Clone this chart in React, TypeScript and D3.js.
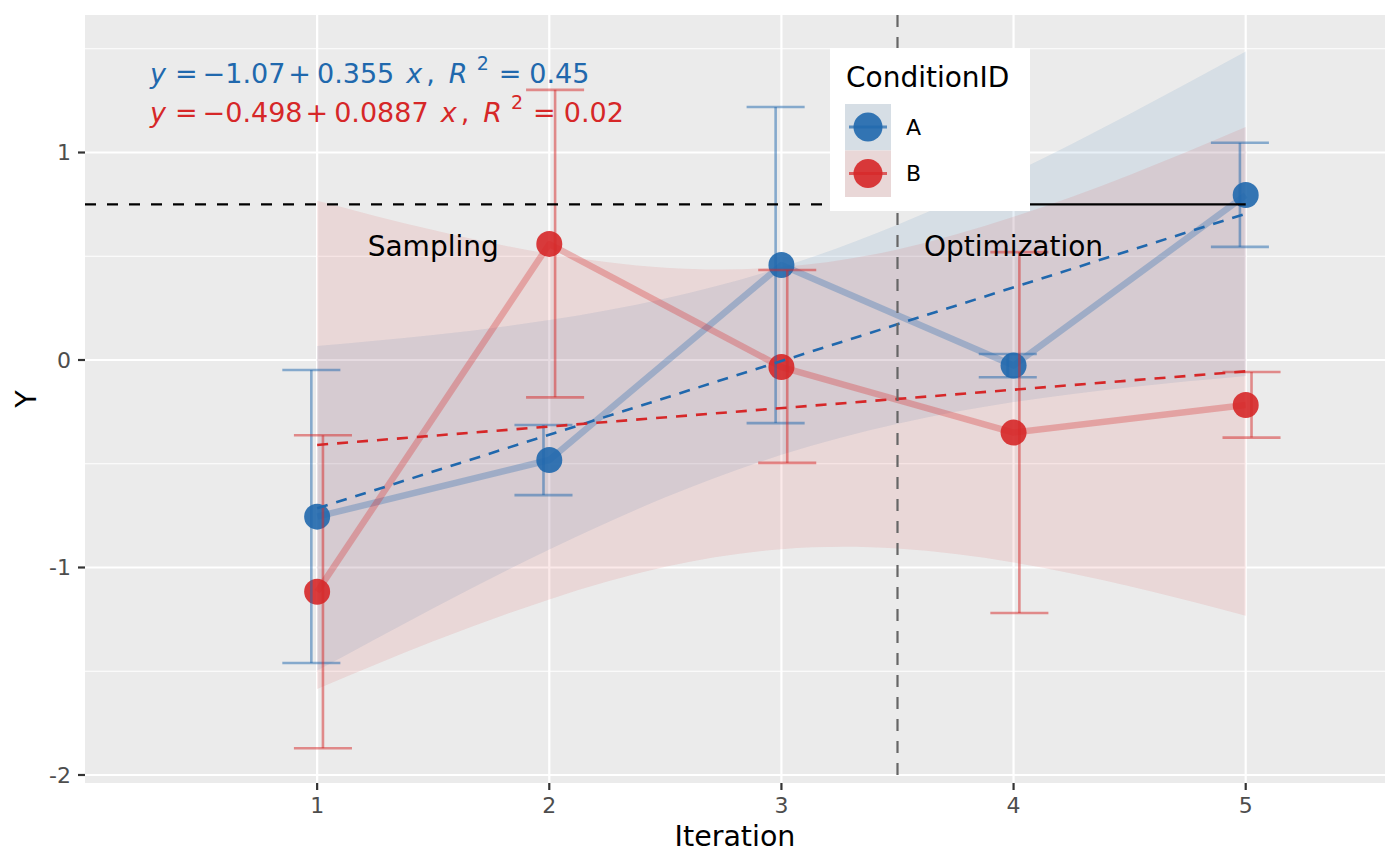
import React from 'react';
import * as d3 from 'd3';

// group means with error bar limits
const iterations = [1, 2, 3, 4, 5];
const groups = ['A', 'B'];
const meanA = [-0.755, -0.482, 0.458, -0.027, 0.795];
const lowA = [-1.46, -0.651, -0.304, -0.083, 0.545];
const highA = [-0.048, -0.313, 1.219, 0.029, 1.047];
const meanB = [-1.117, 0.559, -0.034, -0.35, -0.217];
const lowB = [-1.871, -0.18, -0.496, -1.219, -0.374];
const highB = [-0.363, 1.302, 0.434, 0.52, -0.058];

// linear fit confidence band
const bandX = [1, 1.5, 2, 2.5, 3, 3.5, 4, 4.5, 5];
const bandLowA = [-1.497, -1.196, -0.913, -0.662, -0.457, -0.307, -0.203, -0.131, -0.077];
const bandHighA = [0.067, 0.12, 0.193, 0.297, 0.447, 0.652, 0.903, 1.186, 1.487];
const bandLowB = [-1.586, -1.356, -1.154, -0.997, -0.912, -0.909, -0.976, -1.09, -1.232];
const bandHighB = [0.768, 0.626, 0.512, 0.445, 0.448, 0.533, 0.69, 0.892, 1.123];

// fitted lines shown in the labels
const fitIntercept = [-1.07, -0.498];
const fitSlope = [0.355, 0.0887];
const fitR2 = ['0.45', '0.02'];

const yBreaks = [-2, -1, 0, 1];
const yMinor = [-1.5, -0.5, 0.5, 1.5];
const threshold = 0.75;
const phaseSplit = 3.5;
const phaseLabels = [
  { text: 'Sampling', x: 1.5, y: 0.55 },
  { text: 'Optimization', x: 4.0, y: 0.55 },
];

const colors = ['#2068ad', '#d62728'];
const FONT = '"DejaVu Sans", Verdana, sans-serif';

const W = 1400;
const H = 866;
const panel = { left: 85, right: 1385, top: 15, bottom: 783 };

const x = d3.scaleLinear().domain([0, 5.6]).range([panel.left, panel.right]);
const y = d3.scaleLinear().domain([-2.0386, 1.6627]).range([panel.bottom, panel.top]);

const dodge = 0.025;
const capHalf = 0.125;

export default function App() {
  const means = [meanA, meanB];
  const lows = [lowA, lowB];
  const highs = [highA, highB];
  const bandLows = [bandLowA, bandLowB];
  const bandHighs = [bandHighA, bandHighB];

  const area = d3
    .area<number>()
    .x((d) => x(bandX[d]))
    .curve(d3.curveNatural);
  const meanLine = d3
    .line<number>()
    .x((d) => x(iterations[d]))
    .y((d) => 0);

  const idx = iterations.map((_, i) => i);
  const bidx = bandX.map((_, i) => i);

  return (
    <svg
      width={W}
      height={H}
      style={{ position: 'absolute', left: 0, top: 0, background: '#fff' }}
      fontFamily={FONT}
    >
      <rect x={panel.left} y={panel.top} width={panel.right - panel.left} height={panel.bottom - panel.top} fill="#EBEBEB" />
      {yMinor.map((v) => (
        <line key={'mi' + v} x1={panel.left} x2={panel.right} y1={y(v)} y2={y(v)} stroke="#fff" strokeWidth={1.1} />
      ))}
      {yBreaks.map((v) => (
        <line key={'ma' + v} x1={panel.left} x2={panel.right} y1={y(v)} y2={y(v)} stroke="#fff" strokeWidth={2.2} />
      ))}
      {iterations.map((v) => (
        <line key={'xv' + v} x1={x(v)} x2={x(v)} y1={panel.top} y2={panel.bottom} stroke="#fff" strokeWidth={2.2} />
      ))}

      {/* confidence bands */}
      {groups.map((g, gi) => (
        <path
          key={'band' + g}
          d={area.y0((d) => y(bandLows[gi][d])).y1((d) => y(bandHighs[gi][d]))(bidx) || ''}
          fill={colors[gi]}
          fillOpacity={0.1}
        />
      ))}

      {/* lines joining the means */}
      {groups.map((g, gi) => (
        <path
          key={'ml' + g}
          d={meanLine.y((d) => y(means[gi][d]))(idx) || ''}
          fill="none"
          stroke={colors[gi]}
          strokeOpacity={0.3}
          strokeWidth={6.5}
          strokeLinejoin="round"
        />
      ))}

      {/* points */}
      {groups.map((g, gi) =>
        idx.map((i) => (
          <circle key={'pt' + g + i} cx={x(iterations[i])} cy={y(means[gi][i])} r={13} fill={colors[gi]} fillOpacity={0.9} />
        ))
      )}

      {/* error bars */}
      {groups.map((g, gi) =>
        idx.map((i) => {
          const cx = iterations[i] + (gi === 0 ? -dodge : dodge);
          return (
            <g key={'eb' + g + i} stroke={colors[gi]} strokeOpacity={0.5} strokeWidth={2.6} fill="none">
              <line x1={x(cx)} x2={x(cx)} y1={y(lows[gi][i])} y2={y(highs[gi][i])} />
              <line x1={x(cx - capHalf)} x2={x(cx + capHalf)} y1={y(lows[gi][i])} y2={y(lows[gi][i])} />
              <line x1={x(cx - capHalf)} x2={x(cx + capHalf)} y1={y(highs[gi][i])} y2={y(highs[gi][i])} />
            </g>
          );
        })
      )}

      {/* fitted lines */}
      {groups.map((g, gi) => {
        const x0 = iterations[0];
        const x1 = iterations[iterations.length - 1];
        return (
          <line
            key={'fit' + g}
            x1={x(x0)}
            x2={x(x1)}
            y1={y(fitIntercept[gi] + fitSlope[gi] * x0)}
            y2={y(fitIntercept[gi] + fitSlope[gi] * x1)}
            stroke={colors[gi]}
            strokeWidth={2.6}
            strokeDasharray="11,9"
          />
        );
      })}

      {/* threshold: dashed during sampling, solid afterwards */}
      <line x1={panel.left} x2={x(phaseSplit)} y1={y(threshold)} y2={y(threshold)} stroke="#000" strokeWidth={2.2} strokeDasharray="11,11" />
      <line x1={x(phaseSplit)} x2={x(5)} y1={y(threshold)} y2={y(threshold)} stroke="#000" strokeWidth={2.2} />
      <line x1={x(phaseSplit)} x2={x(phaseSplit)} y1={panel.top} y2={panel.bottom} stroke="#666" strokeWidth={2.2} strokeDasharray="12,10" />

      {phaseLabels.map((p) => (
        <text key={p.text} x={x(p.x)} y={y(p.y)} dy="0.35em" textAnchor="middle" fontSize={28} fill="#000">
          {p.text}
        </text>
      ))}

      {/* regression labels */}
      {groups.map((g, gi) => (
        <text key={'eq' + g} x={x(0.28)} y={y([1.333, 1.148][gi])} fontSize={27} fill={colors[gi]}>
          <tspan fontStyle="italic">y</tspan>
          <tspan dx={9}>=</tspan>
          <tspan dx={5}>−</tspan>
          <tspan>{String(Math.abs(fitIntercept[gi]))}</tspan>
          <tspan dx={3}>+</tspan>
          <tspan dx={6}>{String(fitSlope[gi])}</tspan>
          <tspan dx={12} fontStyle="italic">x</tspan>
          <tspan dx={4}>,</tspan>
          <tspan dx={14} fontStyle="italic">R</tspan>
          <tspan dx={9} dy={-13} fontSize={19}>2</tspan>
          <tspan dx={10} dy={13}>=</tspan>
          <tspan dx={8}>{fitR2[gi]}</tspan>
        </text>
      ))}

      {/* legend */}
      <g>
        <rect x={830} y={48} width={200} height={163} fill="#fff" />
        <text x={846} y={87} fontSize={28} fill="#000">ConditionID</text>
        {groups.map((g, gi) => {
          const ky = 104 + gi * 46.5;
          return (
            <g key={'lg' + g}>
              <rect x={845} y={ky} width={46} height={46.5} fill="#EBEBEB" />
              <rect x={845} y={ky} width={46} height={46.5} fill={colors[gi]} fillOpacity={0.1} />
              <line x1={849} x2={887} y1={ky + 23} y2={ky + 23} stroke={colors[gi]} strokeOpacity={0.7} strokeWidth={3} />
              <circle cx={868} cy={ky + 23} r={14.5} fill={colors[gi]} fillOpacity={0.9} />
              <text x={906} y={ky + 23} dy="0.36em" fontSize={22} fill="#000">{g}</text>
            </g>
          );
        })}
      </g>

      {/* axes */}
      {yBreaks.map((v) => (
        <g key={'yt' + v}>
          <line x1={panel.left - 7} x2={panel.left} y1={y(v)} y2={y(v)} stroke="#333" strokeWidth={2.2} />
          <text x={panel.left - 14} y={y(v)} dy="0.36em" textAnchor="end" fontSize={22} fill="#4D4D4D">
            {String(v)}
          </text>
        </g>
      ))}
      {iterations.map((v) => (
        <g key={'xt' + v}>
          <line x1={x(v)} x2={x(v)} y1={panel.bottom} y2={panel.bottom + 7} stroke="#333" strokeWidth={2.2} />
          <text x={x(v)} y={panel.bottom + 30} textAnchor="middle" fontSize={22} fill="#4D4D4D">
            {v}
          </text>
        </g>
      ))}
      <text x={(panel.left + panel.right) / 2} y={846} textAnchor="middle" fontSize={28.5} fill="#000">
        Iteration
      </text>
      <text
        transform={`translate(36,${(panel.top + panel.bottom) / 2}) rotate(-90)`}
        textAnchor="middle"
        fontSize={28.5}
        fill="#000"
      >
        Y
      </text>
    </svg>
  );
}
